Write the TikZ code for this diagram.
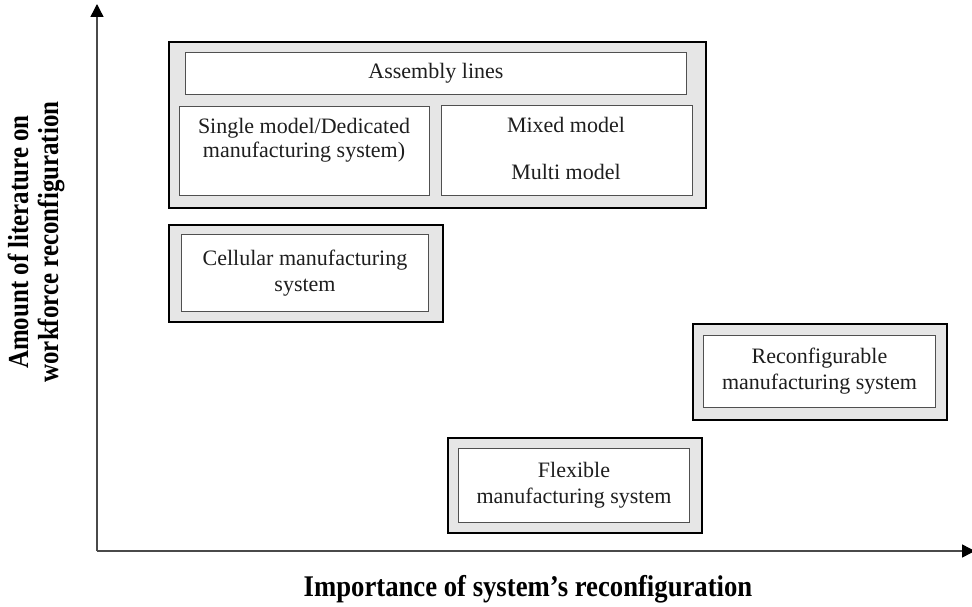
\documentclass[tikz,border=0pt]{standalone}
\usepackage{fontspec}
\setmainfont{Liberation Serif}
\newfontfamily\labelfont{Liberation Serif}[FakeStretch=0.86]
\newfontfamily\xlabelfont{Liberation Serif}[FakeStretch=0.89]
\usetikzlibrary{arrows.meta}
\definecolor{boxfill}{HTML}{E6E6E6}
\definecolor{innerline}{HTML}{505050}
\definecolor{axisline}{HTML}{4A4A4A}
\definecolor{txt}{HTML}{1E1E1E}
\begin{document}
\begin{tikzpicture}[x=1pt,y=-1pt,
  outerbox/.style={draw=black, line width=2pt, fill=boxfill, rectangle, inner sep=0pt, anchor=north west},
  innerbox/.style={draw=innerline, line width=1pt, fill=white, rectangle, inner sep=0pt, anchor=north west,
    align=center, text=txt, font=\fontsize{22}{26}\selectfont},
  boxtext/.style={inner sep=0pt, align=center, text=txt, font=\fontsize{22}{24}\selectfont},
  axislabel/.style={inner sep=0pt, align=center, text=black, font=\labelfont\bfseries\fontsize{29}{30}\selectfont},
  xaxislabel/.style={inner sep=0pt, align=center, text=black, font=\xlabelfont\bfseries\fontsize{30}{32}\selectfont},
  axisline/.style={draw=axisline, line width=1.4pt, -{Triangle[length=13pt,width=13pt,color=black]}}]
\clip (0,0) rectangle (972,607);
\fill[white] (0,0) rectangle (972,607);

% axes
\coordinate (origin) at (97,551);
\coordinate (ytop) at (97,4);
\coordinate (xend) at (975,551);
\draw[axisline] (origin) -- (ytop);
\draw[axisline] (origin) -- (xend);

\node[axislabel, rotate=90] (ylab) at (36,242) {Amount of literature on\\workforce reconfiguration};
\node[xaxislabel] (xlab) at (528,589) {Importance of system’s reconfiguration};

% assembly lines group
\node[outerbox, minimum width=537pt, minimum height=166pt] (asm) at (168,41) {};
\node[innerbox, minimum width=501pt, minimum height=42pt] (asmlines) at (185,52) {Assembly lines};
\node[innerbox, minimum width=250pt, minimum height=89pt] (single) at (179,106) {};
\node[boxtext] (singletxt) at (304,140) {Single model/Dedicated\\manufacturing system)};
\node[innerbox, minimum width=251pt, minimum height=90pt] (mixed) at (441,105) {};
\node[boxtext] (mixedtxt) at (566,125) {Mixed model};
\node[boxtext] (multitxt) at (566,172) {Multi model};

% cellular
\node[outerbox, minimum width=274pt, minimum height=97pt] (cell) at (168,224) {};
\node[innerbox, minimum width=247pt, minimum height=77pt] (cellin) at (181,234) {Cellular manufacturing\\system};

% reconfigurable
\node[outerbox, minimum width=254pt, minimum height=96pt] (rec) at (692,323) {};
\node[innerbox, minimum width=232pt, minimum height=72pt] (recin) at (703,335) {Reconfigurable\\manufacturing system};

% flexible
\node[outerbox, minimum width=254pt, minimum height=95pt] (flex) at (447,437) {};
\node[innerbox, minimum width=231pt, minimum height=74pt] (flexin) at (458,448) {Flexible\\manufacturing system};
\end{tikzpicture}
\end{document}
